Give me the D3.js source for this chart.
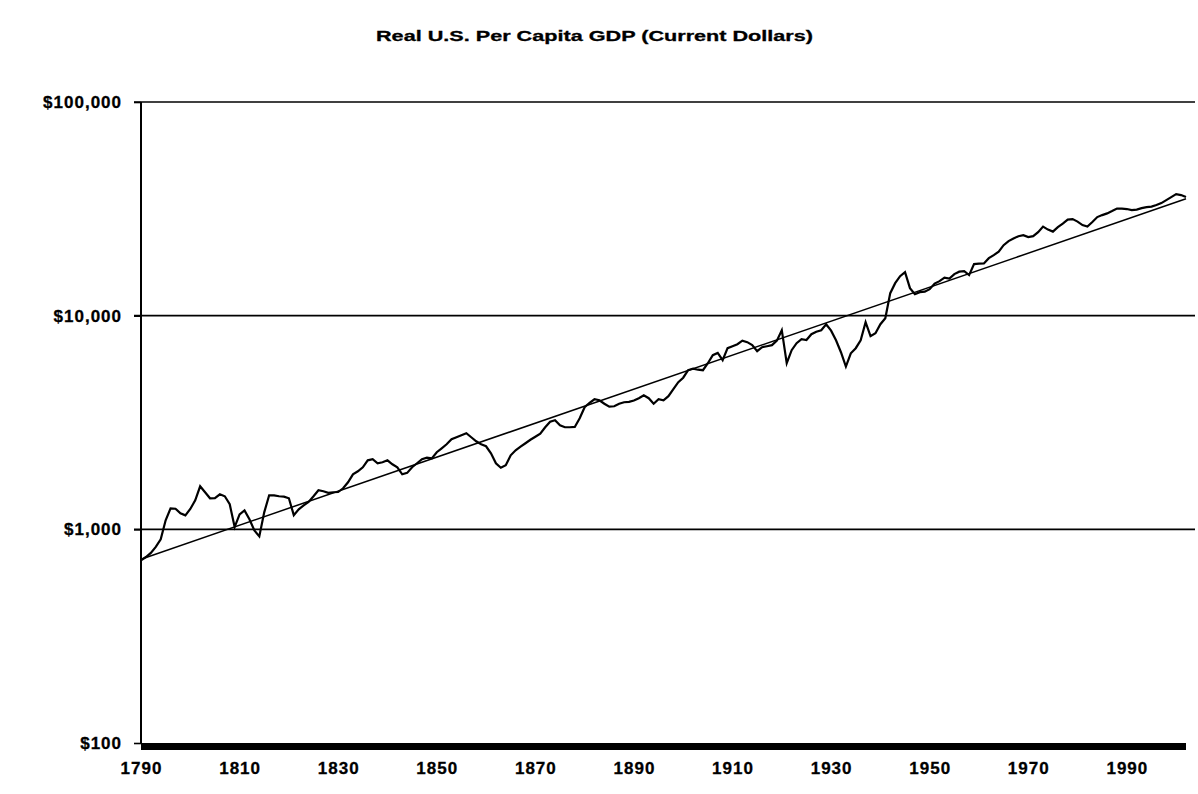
<!DOCTYPE html>
<html>
<head>
<meta charset="utf-8">
<script src="https://cdn.jsdelivr.net/npm/d3@7"></script>
<style>
  html, body { margin: 0; padding: 0; background: #fff; }
  svg text { font-family: "Liberation Sans", Arial, sans-serif; font-weight: bold; fill: #000; }
</style>
</head>
<body>
<svg id="chart" width="1198" height="794"></svg>
<script>
// Real per capita GDP, one value per year starting in 1790
const firstYear = 1790;
const gdpPerCapita = [
  716, 742, 776, 827, 898, 1102, 1254, 1249, 1189, 1163,            // 1790s
  1246, 1367, 1590, 1491, 1397, 1400, 1459, 1428, 1310, 1025,       // 1800s
  1175, 1227, 1114, 989, 927, 1201, 1443, 1443, 1428, 1423,         // 1810s
  1397, 1165, 1241, 1295, 1343, 1428, 1523, 1507, 1483, 1491,       // 1820s
  1495, 1556, 1660, 1809, 1869, 1952, 2104, 2128, 2038, 2060,       // 1830s
  2104, 2016, 1952, 1809, 1837, 1952, 2038, 2128, 2163, 2147,       // 1840s
  2295, 2395, 2500, 2639, 2698, 2756, 2816, 2698, 2582, 2500,       // 1850s
  2448, 2270, 2038, 1941, 1994, 2221, 2344, 2436, 2528, 2625,       // 1860s
  2713, 2807, 3005, 3189, 3241, 3069, 3005, 3005, 3015, 3311,       // 1870s
  3728, 3913, 4063, 4018, 3870, 3749, 3768, 3870, 3934, 3950,       // 1880s
  4007, 4108, 4243, 4108, 3870, 4063, 4018, 4198, 4526, 4882,       // 1890s
  5125, 5555, 5647, 5585, 5555, 5991, 6531, 6695, 6187, 7043,       // 1900s
  7195, 7354, 7638, 7516, 7277, 6818, 7120, 7195, 7277, 7638,       // 1910s
  8551, 5991, 6893, 7430, 7762, 7689, 8189, 8414, 8551, 9120,       // 1920s
  8506, 7675, 6745, 5780, 6670, 7043, 7675, 9325, 8015, 8279,       // 1930s
  9120, 9727, 12748, 14191, 15311, 15987, 13454, 12608, 12882, 12956, // 1940s
  13304, 14122, 14509, 15066, 14902, 15648, 16069, 16143, 15480, 17427, // 1950s
  17520, 17560, 18590, 19205, 19945, 21380, 22336, 22945, 23550, 23820, // 1960s
  23316, 23550, 24604, 26120, 25290, 24740, 25970, 26980, 28160, 28310, // 1970s
  27550, 26540, 26120, 27420, 28930, 29560, 30110, 30860, 31710, 31710, // 1980s
  31550, 31190, 31370, 31880, 32230, 32400, 32930, 33650, 34750, 35890, // 1990s
  37070, 36670, 35890                                                // 2000s
];

// Exponential trend: endpoints of the fitted growth line
const trendYears = [1790, 2002];
const trendValues = [725, 35240];

// Axis labels
const yTickValues = [100, 1000, 10000, 100000];
const xTickLabels = [1790, 1810, 1830, 1850, 1870, 1890, 1910, 1930, 1950, 1970, 1990];
const chartTitle = "Real U.S. Per Capita GDP (Current Dollars)";

const series = gdpPerCapita.map((v, i) => ({ year: firstYear + i, value: v }));
const trend = trendYears.map((yr, i) => ({ year: yr, value: trendValues[i] }));

const svg = d3.select("#chart");

const plotLeft = 141, plotTop = 102, plotBottom = 743;
const x = d3.scaleLinear().domain([1790, 2002]).range([plotLeft, 1186]);
const y = d3.scaleLog().domain([100, 100000]).range([plotBottom, plotTop]);

// Title
svg.append("text")
  .attr("x", 594.5)
  .attr("y", 41)
  .attr("text-anchor", "middle")
  .attr("font-size", 15)
  .attr("stroke", "#000")
  .attr("stroke-width", 0.3)
  .attr("textLength", 437)
  .attr("lengthAdjust", "spacingAndGlyphs")
  .text(chartTitle);

// Horizontal gridlines (the $100 level is the heavy baseline)
svg.append("g")
  .selectAll("line")
  .data(yTickValues.filter(d => d > 100))
  .join("line")
  .attr("x1", plotLeft - 7)
  .attr("x2", 1195)
  .attr("y1", d => y(d))
  .attr("y2", d => y(d))
  .attr("stroke", "#000")
  .attr("stroke-width", 1.6);

// Left axis labels
const yAxis = d3.axisLeft(y)
  .tickValues(yTickValues)
  .tickFormat(d => "$" + d3.format(",")(d))
  .tickSize(7)
  .tickPadding(12);

const yAxisG = svg.append("g")
  .attr("transform", `translate(${plotLeft},0)`)
  .call(yAxis);
yAxisG.select(".domain").remove();
yAxisG.selectAll(".tick line").attr("stroke", "#000").attr("stroke-width", 1.6);
yAxisG.selectAll(".tick text")
  .attr("font-size", 17)
  .attr("font-family", "'Liberation Sans', Arial, sans-serif")
  .attr("font-weight", "bold")
  .attr("fill", "#000")
  .attr("stroke", "#000")
  .attr("stroke-width", 0.3)
  .attr("letter-spacing", 1);

// Vertical axis line
svg.append("line")
  .attr("x1", plotLeft).attr("x2", plotLeft)
  .attr("y1", plotTop).attr("y2", plotBottom)
  .attr("stroke", "#000")
  .attr("stroke-width", 2);

// Heavy baseline along the bottom
svg.append("line")
  .attr("x1", plotLeft)
  .attr("x2", x(2002))
  .attr("y1", y(100) + 3.5)
  .attr("y2", y(100) + 3.5)
  .attr("stroke", "#000")
  .attr("stroke-width", 7);

// Bottom axis labels
const xAxis = d3.axisBottom(x)
  .tickValues(xTickLabels)
  .tickFormat(d3.format("d"))
  .tickSize(0)
  .tickPadding(19);

const xAxisG = svg.append("g")
  .attr("transform", `translate(0,${plotBottom})`)
  .call(xAxis);
xAxisG.select(".domain").remove();
xAxisG.selectAll(".tick text")
  .attr("font-size", 17)
  .attr("font-family", "'Liberation Sans', Arial, sans-serif")
  .attr("font-weight", "bold")
  .attr("fill", "#000")
  .attr("stroke", "#000")
  .attr("stroke-width", 0.3)
  .attr("letter-spacing", 1);

// Trend line
const line = d3.line()
  .x(d => x(d.year))
  .y(d => y(d.value));

svg.append("path")
  .datum(trend)
  .attr("d", line)
  .attr("fill", "none")
  .attr("stroke", "#000")
  .attr("stroke-width", 1.5);

// GDP series
svg.append("path")
  .datum(series)
  .attr("d", line)
  .attr("fill", "none")
  .attr("stroke", "#000")
  .attr("stroke-width", 2.2)
  .attr("stroke-linejoin", "miter");
</script>
</body>
</html>
